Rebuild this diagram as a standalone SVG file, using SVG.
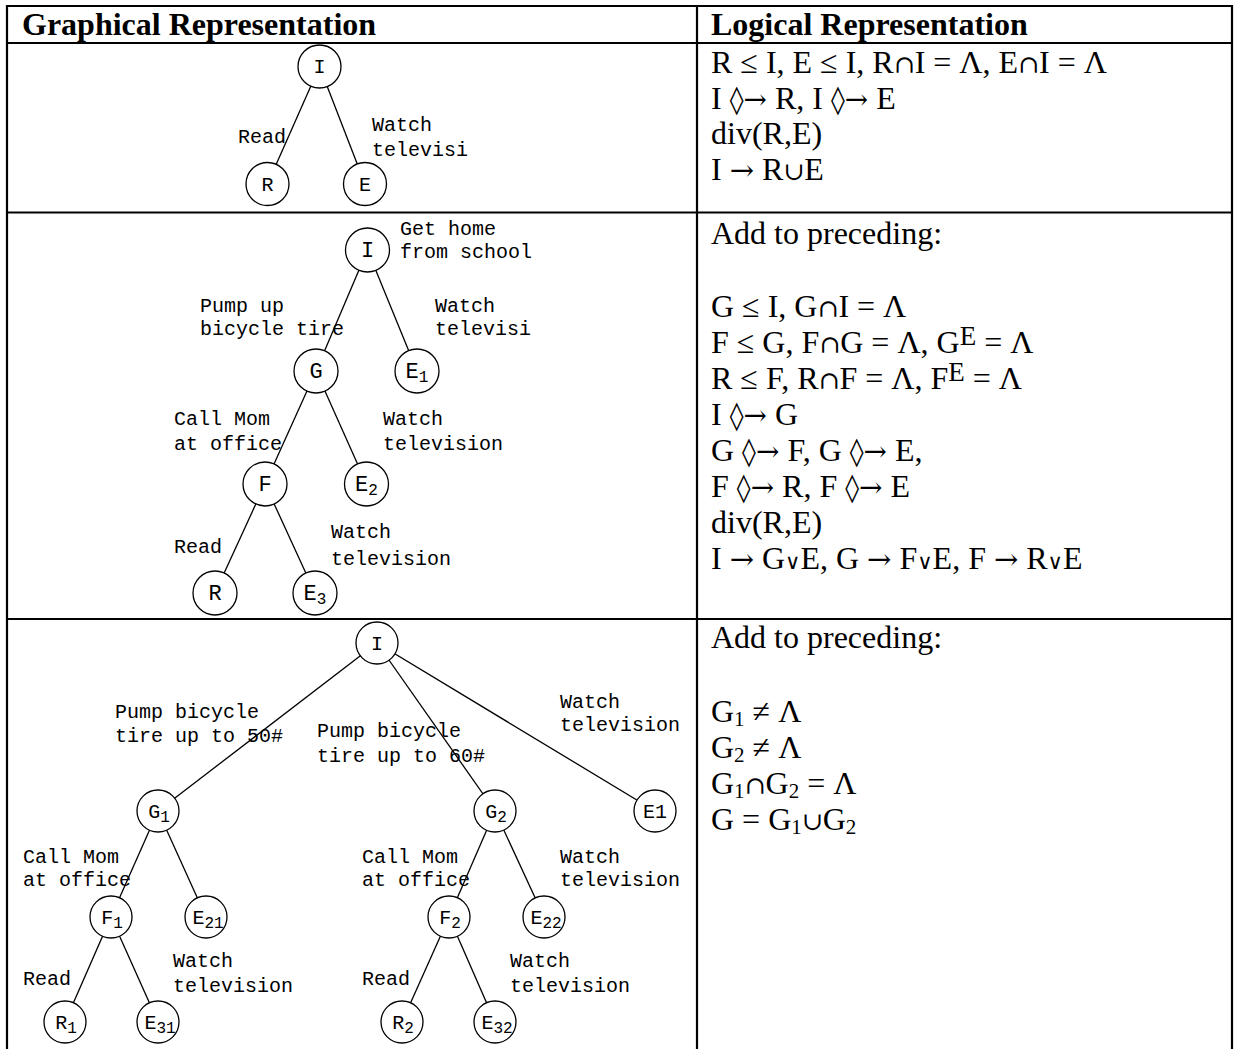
<svg xmlns="http://www.w3.org/2000/svg" width="1235" height="1049" viewBox="0 0 1235 1049">
  <style>
    .grid { fill: none; stroke: #000; stroke-width: 2.2; }
    .edges line { stroke: #000; stroke-width: 1.3; }
    .node circle { fill: #fff; stroke: #000; stroke-width: 1.3; }
    .node text { font-family: "Liberation Mono", "DejaVu Sans Mono", monospace; font-size: 20px; text-anchor: middle; fill: #000; }
    .big text { font-size: 22px; }
    .sub { font-size: 16px; }
    .lbl { font-family: "Liberation Mono", "DejaVu Sans Mono", monospace; font-size: 20px; fill: #000; }
    .hdr { font-family: "Liberation Serif", "DejaVu Serif", serif; font-size: 32px; font-weight: bold; fill: #000; }
    .logic { font-family: "Liberation Serif", "DejaVu Serif", serif; font-size: 32px; fill: #000; }
    .ls { font-size: 21px; }
    .lsup { font-size: 27px; }
    .darr { font-family: "DejaVu Serif", serif; font-size: 28px; }
    .arr { font-family: "DejaVu Serif", serif; font-size: 29px; }
    .set { font-family: "DejaVu Serif", serif; font-size: 25px; }
    .or { font-family: "DejaVu Serif", serif; font-size: 21px; }
  </style>
  <rect width="1235" height="1049" fill="#fff"/>

  <!-- table rules and column headings -->
  <g id="table">
    <path class="grid" d="M7 1049 V6 H1232 V1049 M697 6 V1049 M7 43 H1232 M7 212.5 H1232 M7 619 H1232"/>
    <text class="hdr" x="22" y="35">Graphical Representation</text>
    <text class="hdr" x="711" y="35">Logical Representation</text>
  </g>

  <!-- tree edges -->
  <g id="connectors" class="edges">
    <!-- first tree -->
    <line x1="319.5" y1="66.5" x2="267.5" y2="184"/>
    <line x1="319.5" y1="66.5" x2="365" y2="184"/>
    <!-- second tree -->
    <line x1="367.5" y1="250" x2="316" y2="371"/>
    <line x1="367.5" y1="250" x2="417" y2="371"/>
    <line x1="316" y1="371" x2="265" y2="484"/>
    <line x1="316" y1="371" x2="366.5" y2="484"/>
    <line x1="265" y1="484" x2="215" y2="593"/>
    <line x1="265" y1="484" x2="315" y2="593"/>
    <!-- third tree -->
    <line x1="377" y1="643" x2="158" y2="811"/>
    <line x1="377" y1="643" x2="495" y2="811"/>
    <line x1="377" y1="643" x2="655" y2="811"/>
    <line x1="158" y1="811" x2="111" y2="917"/>
    <line x1="158" y1="811" x2="206" y2="917"/>
    <line x1="495" y1="811" x2="449" y2="917"/>
    <line x1="495" y1="811" x2="544" y2="917"/>
    <line x1="111" y1="917" x2="65" y2="1022"/>
    <line x1="111" y1="917" x2="158" y2="1022"/>
    <line x1="449" y1="917" x2="402" y2="1022"/>
    <line x1="449" y1="917" x2="495" y2="1022"/>
  </g>

  <!-- first tree nodes -->
  <g id="t1-I" class="node"><circle cx="319.5" cy="66.5" r="21.5"/><text x="319.5" y="73">I</text></g>
  <g id="t1-R" class="node"><circle cx="267.5" cy="184" r="21.5"/><text x="267.5" y="190.5">R</text></g>
  <g id="t1-E" class="node"><circle cx="365" cy="184" r="21.5"/><text x="365" y="190.5">E</text></g>

  <!-- second tree nodes -->
  <g id="t2-I" class="node big"><circle cx="367.5" cy="250" r="22"/><text x="367.5" y="257">I</text></g>
  <g id="t2-G" class="node big"><circle cx="316" cy="371" r="22"/><text x="316" y="378">G</text></g>
  <g id="t2-E1" class="node big"><circle cx="417" cy="371" r="22"/><text x="417" y="378">E<tspan class="sub" dy="4">1</tspan></text></g>
  <g id="t2-F" class="node big"><circle cx="265" cy="484" r="22"/><text x="265" y="491">F</text></g>
  <g id="t2-E2" class="node big"><circle cx="366.5" cy="484" r="22"/><text x="366.5" y="491">E<tspan class="sub" dy="4">2</tspan></text></g>
  <g id="t2-R" class="node big"><circle cx="215" cy="593" r="22"/><text x="215" y="600">R</text></g>
  <g id="t2-E3" class="node big"><circle cx="315" cy="593" r="22"/><text x="315" y="600">E<tspan class="sub" dy="4">3</tspan></text></g>

  <!-- third tree nodes -->
  <g id="t3-I" class="node"><circle cx="377" cy="643" r="21"/><text x="377" y="649.5">I</text></g>
  <g id="t3-G1" class="node"><circle cx="158" cy="811" r="21"/><text x="159" y="817.5">G<tspan class="sub" dy="4">1</tspan></text></g>
  <g id="t3-G2" class="node"><circle cx="495" cy="811" r="21"/><text x="496" y="817.5">G<tspan class="sub" dy="4">2</tspan></text></g>
  <g id="t3-E1" class="node"><circle cx="655" cy="811" r="21"/><text x="655" y="817.5">E1</text></g>
  <g id="t3-F1" class="node"><circle cx="111" cy="917" r="21"/><text x="112" y="923.5">F<tspan class="sub" dy="4">1</tspan></text></g>
  <g id="t3-E21" class="node"><circle cx="206" cy="917" r="21"/><text x="208" y="923.5">E<tspan class="sub" dy="4">21</tspan></text></g>
  <g id="t3-F2" class="node"><circle cx="449" cy="917" r="21"/><text x="450" y="923.5">F<tspan class="sub" dy="4">2</tspan></text></g>
  <g id="t3-E22" class="node"><circle cx="544" cy="917" r="21"/><text x="546" y="923.5">E<tspan class="sub" dy="4">22</tspan></text></g>
  <g id="t3-R1" class="node"><circle cx="65" cy="1022" r="21"/><text x="66" y="1028.5">R<tspan class="sub" dy="4">1</tspan></text></g>
  <g id="t3-E31" class="node"><circle cx="158" cy="1022" r="21"/><text x="160" y="1028.5">E<tspan class="sub" dy="4">31</tspan></text></g>
  <g id="t3-R2" class="node"><circle cx="402" cy="1022" r="21"/><text x="403" y="1028.5">R<tspan class="sub" dy="4">2</tspan></text></g>
  <g id="t3-E32" class="node"><circle cx="495" cy="1022" r="21"/><text x="497" y="1028.5">E<tspan class="sub" dy="4">32</tspan></text></g>

  <!-- edge labels -->
  <g id="labels" class="lbl">
    <text x="238" y="143">Read</text>
    <text x="372" y="131">Watch</text>
    <text x="372" y="156">televisi</text>

    <text x="400" y="235">Get home</text>
    <text x="400" y="258">from school</text>
    <text x="200" y="312">Pump up</text>
    <text x="200" y="335">bicycle tire</text>
    <text x="435" y="312">Watch</text>
    <text x="435" y="335">televisi</text>
    <text x="174" y="425">Call Mom</text>
    <text x="174" y="450">at office</text>
    <text x="383" y="425">Watch</text>
    <text x="383" y="450">television</text>
    <text x="174" y="553">Read</text>
    <text x="331" y="538">Watch</text>
    <text x="331" y="565">television</text>

    <text x="115" y="718">Pump bicycle</text>
    <text x="115" y="742">tire up to 50#</text>
    <text x="317" y="737">Pump bicycle</text>
    <text x="317" y="762">tire up to 60#</text>
    <text x="560" y="708">Watch</text>
    <text x="560" y="731">television</text>
    <text x="23" y="863">Call Mom</text>
    <text x="23" y="886">at office</text>
    <text x="362" y="863">Call Mom</text>
    <text x="362" y="886">at office</text>
    <text x="560" y="863">Watch</text>
    <text x="560" y="886">television</text>
    <text x="23" y="985">Read</text>
    <text x="173" y="967">Watch</text>
    <text x="173" y="992">television</text>
    <text x="362" y="985">Read</text>
    <text x="510" y="967">Watch</text>
    <text x="510" y="992">television</text>
  </g>

  <!-- logical statements -->
  <g id="logic-1" class="logic">
    <text x="711" y="73">R ≤ I, E ≤ I, R<tspan class="set">∩</tspan>I = Λ, E<tspan class="set">∩</tspan>I = Λ</text>
    <text x="711" y="108.5">I <tspan class="darr">◊→</tspan> R, I <tspan class="darr">◊→</tspan> E</text>
    <text x="711" y="144">div(R,E)</text>
    <text x="711" y="179.5">I <tspan class="arr">→</tspan> R<tspan class="set">∪</tspan>E</text>
  </g>
  <g id="logic-2" class="logic">
    <text x="711" y="244">Add to preceding:</text>
    <text x="711" y="317">G ≤ I, G<tspan class="set">∩</tspan>I = Λ</text>
    <text x="711" y="353">F ≤ G, F<tspan class="set">∩</tspan>G = Λ, G<tspan class="lsup" dy="-8">E</tspan><tspan dy="8"> = Λ</tspan></text>
    <text x="711" y="389">R ≤ F, R<tspan class="set">∩</tspan>F = Λ, F<tspan class="lsup" dy="-8">E</tspan><tspan dy="8"> = Λ</tspan></text>
    <text x="711" y="425">I <tspan class="darr">◊→</tspan> G</text>
    <text x="711" y="461">G <tspan class="darr">◊→</tspan> F, G <tspan class="darr">◊→</tspan> E,</text>
    <text x="711" y="497">F <tspan class="darr">◊→</tspan> R, F <tspan class="darr">◊→</tspan> E</text>
    <text x="711" y="533">div(R,E)</text>
    <text x="711" y="569">I <tspan class="arr">→</tspan> G<tspan class="or">∨</tspan>E, G <tspan class="arr">→</tspan> F<tspan class="or">∨</tspan>E, F <tspan class="arr">→</tspan> R<tspan class="or">∨</tspan>E</text>
  </g>
  <g id="logic-3" class="logic">
    <text x="711" y="648">Add to preceding:</text>
    <text x="711" y="722">G<tspan class="ls" dy="4">1</tspan><tspan dy="-4"> ≠ Λ</tspan></text>
    <text x="711" y="758">G<tspan class="ls" dy="4">2</tspan><tspan dy="-4"> ≠ Λ</tspan></text>
    <text x="711" y="794">G<tspan class="ls" dy="4">1</tspan><tspan class="set" dy="-4">∩</tspan>G<tspan class="ls" dy="4">2</tspan><tspan dy="-4"> = Λ</tspan></text>
    <text x="711" y="830">G = G<tspan class="ls" dy="4">1</tspan><tspan class="set" dy="-4">∪</tspan>G<tspan class="ls" dy="4">2</tspan></text>
  </g>
</svg>
